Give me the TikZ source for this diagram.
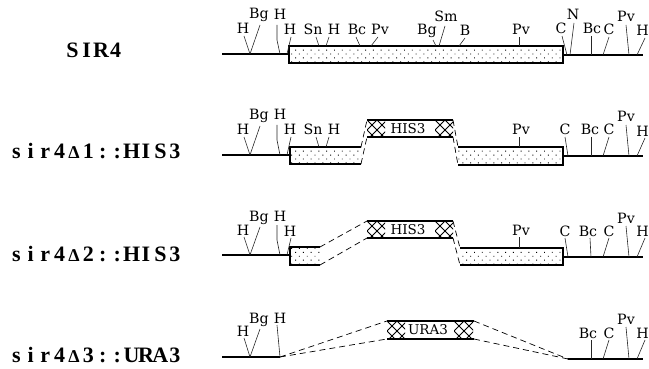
\documentclass[tikz,border=0pt]{standalone}
\usepackage{fontspec}
\usetikzlibrary{patterns.meta}
\setmainfont{DejaVu Serif}
\newfontfamily\titlefont{Liberation Serif Bold}
\newcommand{\mc}[1]{\makebox[14.4pt][c]{#1}}
\newcommand{\dl}{\mc{\fontsize{18}{18}\selectfont Δ}}
\newcommand{\sitelabel}[7][7]{%
  \node[sitetext] (#7) at (#3,#4+5) {#2};
  \draw[tick] (#5,#4+#1) -- (#6);
}
\newcommand{\crosshatch}[4]{%
  \begin{scope}
    \clip (#1,#3) rectangle (#2,#4);
    \foreach \k in {-4,...,4}{
      \draw[hatchline] (#1+\k*10,#3) -- ++(24,24);
      \draw[hatchline] (#1+\k*10,#3) -- ++(-24,24);
    }
  \end{scope}
}
\tikzset{
  sitetext/.style={font=\fontsize{14.2}{15}\selectfont,inner sep=0pt,outer sep=0pt,anchor=base},
  tick/.style={line width=.6pt,black!85},
  chrom/.style={line width=1.3pt},
  edge/.style={line width=1.6pt},
  link/.style={line width=.7pt,dash pattern=on 6pt off 4pt},
  stipple/.style={pattern={Dots[radius=.65pt,distance=5.5pt,angle=45]},pattern color=black},
  hatchline/.style={line width=.9pt},
  genetext/.style={font=\fontsize{13.5}{14}\selectfont,inner sep=0pt},
  rowtitle/.style={font=\titlefont\fontsize{22}{23}\selectfont,inner sep=0pt,anchor=base west}
}
\begin{document}
\begin{tikzpicture}[x=1pt,y=-1pt]
\useasboundingbox (0,0) rectangle (649,369);
% titles
\node[rowtitle] (t1) at (65,58) {\mc{S}\mc{I}\mc{R}\mc{4}};
\node[rowtitle] (t2) at (9,159) {\mc{s}\mc{i}\mc{r}\mc{4}\dl\mc{1}\mc{:}\mc{:}\mc{H}\mc{I}\mc{S}\mc{3}};
\node[rowtitle] (t3) at (9,261) {\mc{s}\mc{i}\mc{r}\mc{4}\dl\mc{2}\mc{:}\mc{:}\mc{H}\mc{I}\mc{S}\mc{3}};
\node[rowtitle] (t4) at (9,362) {\mc{s}\mc{i}\mc{r}\mc{4}\dl\mc{3}\mc{:}\mc{:}\mc{U}\mc{R}\mc{A}\mc{3}};
% ---------- row 1
\fill[stipple] (289,46) rectangle (563,63);
\draw[edge] (289,46) rectangle (563,63);
\coordinate (a0) at (222,54); \coordinate (a1) at (289,54);
\coordinate (a2) at (563,55); \coordinate (a3) at (643,55);
\draw[chrom] (a0) -- (a1); \draw[chrom] (a2) -- (a3);
\foreach \n/\x/\y in {e1/250/54,e2/250/54,e4/287/54,e5/319/46,e6/326/46,e7/360/46,e8/371/46,e9/436/46,e10/439/46,e11/459/46,e12/519/46,e13/567/55,e14/570/55,e15/591/55,e16/603/55,e17/629/55,e18/637/55}
  \coordinate (\n) at (\x,\y);
\sitelabel{H}{243}{29}{244}{e1}{l1}
\sitelabel[11]{Bg}{259}{14}{260}{e2}{l2}
\node[sitetext] (l3) at (280,20) {H};
\coordinate (b3) at (277,40); \coordinate (e3) at (280,54);
\draw[tick] (277,25) -- (b3) -- (e3);
\sitelabel{H}{290}{30}{291}{e4}{l4}
\sitelabel{Sn}{313}{30}{316}{e5}{l5}
\sitelabel{H}{334}{30}{329}{e6}{l6}
\sitelabel{Bc}{357}{30}{356}{e7}{l7}
\sitelabel{Pv}{380}{30}{378}{e8}{l8}
\sitelabel[10]{Bg}{427}{30}{433}{e9}{l9}
\sitelabel[9]{Sm}{446}{17}{445}{e10}{l10}
\sitelabel{B}{465}{31}{465}{e11}{l11}
\sitelabel{Pv}{521}{30}{519}{e12}{l12}
\sitelabel{C}{561}{29}{562}{e13}{l13}
\sitelabel[8]{N}{573}{15}{574}{e14}{l14}
\sitelabel{Bc}{592}{29}{591}{e15}{l15}
\sitelabel{C}{609}{30}{609}{e16}{l16}
\sitelabel[8]{Pv}{626}{17}{626}{e17}{l17}
\sitelabel{H}{642.5}{31}{645}{e18}{l18}
% ---------- row 2
\fill[stipple] (290,147) rectangle (361,164);
\fill[stipple] (458,147) rectangle (563,165);
\draw[edge] (361,147) -- (290,147) -- (290,164) -- (361,164);
\draw[edge] (458,147) -- (563,147) -- (563,165) -- (458,165);
\crosshatch{367}{385}{120}{137}
\crosshatch{435}{453}{120}{137}
\draw[edge] (367,120) -- (453,120) (367,137) -- (453,137);
\node[genetext] (g2) at (408,128.5) {HIS3};
\draw[link] (361,147) -- (367,120); \draw[link] (361,164) -- (367,137);
\draw[link] (453,120) -- (458,147); \draw[link] (453,137) -- (458,165);
\coordinate (c0) at (222,155); \coordinate (c1) at (290,155);
\coordinate (c2) at (563,156); \coordinate (c3) at (643,156);
\draw[chrom] (c0) -- (c1); \draw[chrom] (c2) -- (c3);
\foreach \n/\x/\y in {f1/250/155,f2/250/155,f4/287/155,f5/319/147,f6/326/147,f12/519/147,f13/568/156,f15/591/156,f16/603/156,f17/629/156,f18/637/156}
  \coordinate (\n) at (\x,\y);
\sitelabel{H}{243}{130}{244}{f1}{m1}
\sitelabel[11]{Bg}{259}{115}{260}{f2}{m2}
\node[sitetext] (m3) at (280,120) {H};
\coordinate (d3) at (277,140); \coordinate (f3) at (280,155);
\draw[tick] (277,125) -- (d3) -- (f3);
\sitelabel{H}{290}{130}{291}{f4}{m4}
\sitelabel{Sn}{313}{130}{316}{f5}{m5}
\sitelabel{H}{334}{130}{329}{f6}{m6}
\sitelabel{Pv}{521}{130}{519}{f12}{m12}
\sitelabel{C}{565}{130}{565}{f13}{m13}
\sitelabel{Bc}{590}{130}{591}{f15}{m15}
\sitelabel{C}{609}{130}{609}{f16}{m16}
\sitelabel[8]{Pv}{626}{117}{626}{f17}{m17}
\sitelabel{H}{642.5}{131}{645}{f18}{m18}
% ---------- row 3
\fill[stipple] (290,247) rectangle (320,265);
\fill[stipple] (460,248) rectangle (563,265);
\draw[edge] (320,247) -- (290,247) -- (290,265) -- (320,265);
\draw[edge] (460,248) -- (563,248) -- (563,265) -- (460,265);
\crosshatch{367}{385}{221}{238}
\crosshatch{435}{453}{221}{238}
\draw[edge] (367,221) -- (453,221) (367,238) -- (453,238);
\node[genetext] (g3) at (408,229.5) {HIS3};
\draw[link] (320,247) -- (367,221); \draw[link] (320,265) -- (367,238);
\draw[link] (453,221) -- (460,248); \draw[link] (453,238) -- (460,265);
\coordinate (h0) at (222,255); \coordinate (h1) at (290,255);
\coordinate (h2) at (563,257); \coordinate (h3) at (643,257);
\draw[chrom] (h0) -- (h1); \draw[chrom] (h2) -- (h3);
\foreach \n/\x/\y in {i1/250/255,i2/250/255,i4/287/255,i12/519/248,i13/568/257,i15/591/257,i16/603/257,i17/629/257,i18/637/257}
  \coordinate (\n) at (\x,\y);
\sitelabel{H}{243}{230}{244}{i1}{n1}
\sitelabel[11]{Bg}{259}{216}{260}{i2}{n2}
\node[sitetext] (n3) at (280,221) {H};
\coordinate (j3) at (277,240); \coordinate (i3) at (280,255);
\draw[tick] (277,225) -- (j3) -- (i3);
\sitelabel{H}{290}{231}{291}{i4}{n4}
\sitelabel{Pv}{521}{230}{519}{i12}{n12}
\sitelabel{C}{565}{231}{565}{i13}{n13}
\sitelabel{Bc}{588}{231}{590}{i15}{n15}
\sitelabel{C}{609}{231}{609}{i16}{n16}
\sitelabel[8]{Pv}{626}{218}{626}{i17}{n17}
\sitelabel{H}{642.5}{231}{645}{i18}{n18}
% ---------- row 4
\crosshatch{387}{405}{321}{339}
\crosshatch{454}{473}{321}{339}
\draw[edge] (387,321) -- (474,321) (387,339) -- (474,339);
\node[genetext] (g4) at (428,330) {URA3};
\coordinate (k0) at (222,357); \coordinate (k1) at (280,357);
\coordinate (k2) at (568,359); \coordinate (k3) at (643,359);
\draw[chrom] (k0) -- (k1); \draw[chrom] (k2) -- (k3);
\draw[link] (k1) -- (387,321); \draw[link] (k1) -- (387,339);
\draw[link] (474,321) -- (k2); \draw[link] (474,339) -- (k2);
\foreach \n/\x/\y in {o1/250/357,o2/250/357,o3/280/357,o15/591/359,o16/603/359,o17/629/359,o18/637/359}
  \coordinate (\n) at (\x,\y);
\sitelabel{H}{243}{331}{244}{o1}{p1}
\sitelabel[11]{Bg}{259}{318}{260}{o2}{p2}
\sitelabel{H}{280}{318}{277}{o3}{p3}
\sitelabel{Bc}{588}{333}{591}{o15}{p15}
\sitelabel{C}{609}{333}{609}{o16}{p16}
\sitelabel[8]{Pv}{626}{319}{626}{o17}{p17}
\sitelabel{H}{642.5}{333}{645}{o18}{p18}
\end{tikzpicture}
\end{document}
